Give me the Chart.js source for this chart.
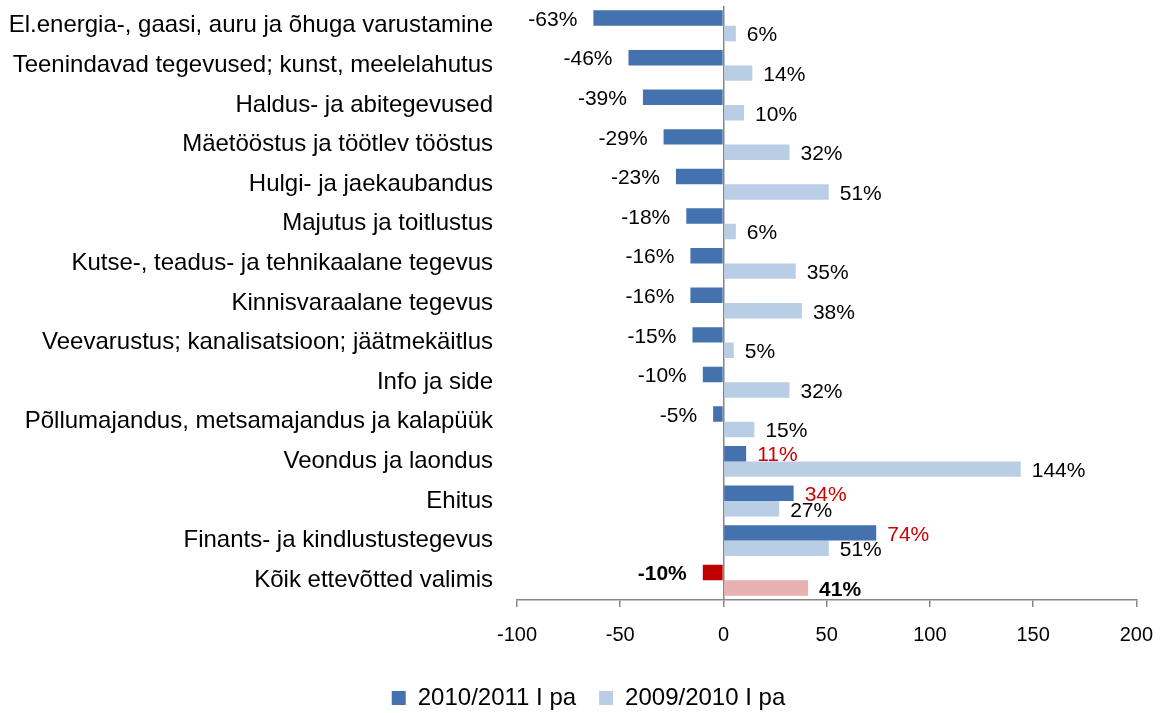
<!DOCTYPE html>
<html>
<head>
<meta charset="utf-8">
<script src="https://cdn.jsdelivr.net/npm/chart.js@4.4.0/dist/chart.umd.min.js"></script>
<style>
html,body{margin:0;padding:0;background:#fff;}
#wrap{width:1169px;height:713px;position:relative;}
</style>
</head>
<body>
<div id="wrap"><canvas id="c" width="1169" height="713"></canvas></div>
<script>
const categories = [
  "El.energia-, gaasi, auru ja õhuga varustamine",
  "Teenindavad tegevused; kunst, meelelahutus",
  "Haldus- ja abitegevused",
  "Mäetööstus ja töötlev tööstus",
  "Hulgi- ja jaekaubandus",
  "Majutus ja toitlustus",
  "Kutse-, teadus- ja tehnikaalane tegevus",
  "Kinnisvaraalane tegevus",
  "Veevarustus; kanalisatsioon; jäätmekäitlus",
  "Info ja side",
  "Põllumajandus, metsamajandus ja kalapüük",
  "Veondus ja laondus",
  "Ehitus",
  "Finants- ja kindlustustegevus",
  "Kõik ettevõtted valimis"
];
const series2011 = [-63, -46, -39, -29, -23, -18, -16, -16, -15, -10, -5, 11, 34, 74, -10];
const series2010 = [6, 14, 10, 32, 51, 6, 35, 38, 5, 32, 15, 144, 27, 51, 41];
const seriesNames = ["2010/2011 I pa", "2009/2010 I pa"];
const xTicks = [-100, -50, 0, 50, 100, 150, 200];

const FONT = "'Liberation Sans', Arial, sans-serif";
const DARK = '#4472AE', LIGHT = '#B9CDE5', RED = '#C00000', PINK = '#E6B1AF';
const lastIdx = categories.length - 1;

const labelPlugin = {
  id: 'barLabels',
  afterDatasetsDraw(chart) {
    const ctx = chart.ctx;
    ctx.save();
    ctx.textBaseline = 'middle';
    chart.data.datasets.forEach((ds, di) => {
      const meta = chart.getDatasetMeta(di);
      meta.data.forEach((bar, i) => {
        const v = ds.data[i];
        const isTotal = i === lastIdx;
        ctx.font = (isTotal ? 'bold ' : '') + '21px ' + FONT;
        ctx.fillStyle = (di === 0 && v > 0) ? '#CC0000' : '#000';
        const txt = v + '%';
        const y = bar.y + 2;
        if (v < 0) {
          ctx.textAlign = 'right';
          ctx.fillText(txt, bar.x - 16, y);
        } else {
          ctx.textAlign = 'left';
          ctx.fillText(txt, bar.x + 11, y);
        }
      });
    });
    ctx.restore();
  }
};

const legendShift = {
  id: 'legendShift',
  afterLayout(chart) {
    if (chart.legend) { chart.legend.left += 18; chart.legend.right += 18; }
  }
};

new Chart(document.getElementById('c'), {
  type: 'bar',
  data: {
    labels: categories,
    datasets: [
      {
        label: seriesNames[0],
        data: series2011,
        backgroundColor: series2011.map((v, i) => i === lastIdx ? RED : DARK),
        categoryPercentage: 0.78,
        barPercentage: 1.0
      },
      {
        label: seriesNames[1],
        data: series2010,
        backgroundColor: series2010.map((v, i) => i === lastIdx ? PINK : LIGHT),
        categoryPercentage: 0.78,
        barPercentage: 1.0
      }
    ]
  },
  options: {
    indexAxis: 'y',
    responsive: false,
    animation: false,
    layout: { padding: { top: 6, right: 28, left: 0, bottom: 0 } },
    scales: {
      x: {
        min: -100, max: 200,
        afterBuildTicks(scale) { scale.ticks = xTicks.map(v => ({ value: v })); },
        afterFit(scale) { scale.height = 63; },
        grid: {
          color: (c) => (c.tick && c.tick.value === 0) ? '#868686' : 'rgba(0,0,0,0)',
          tickColor: '#868686',
          tickLength: 7,
          lineWidth: 1.5
        },
        border: { display: true, color: '#868686', width: 1.5 },
        ticks: { color: '#000', font: { family: FONT, size: 20 }, padding: 16 }
      },
      y: {
        afterFit(scale) { scale.width = 517; scale.paddingTop = 0; scale.paddingBottom = 0; },
        grid: { display: false, drawTicks: false },
        border: { display: false },
        ticks: { color: '#000', font: { family: FONT, size: 24 }, padding: 24, autoSkip: false }
      }
    },
    plugins: {
      legend: {
        position: 'bottom',
        maxHeight: 50,
        labels: {
          color: '#000',
          font: { family: FONT, size: 24 },
          boxWidth: 14, boxHeight: 14,
          padding: 23
        }
      },
      tooltip: { enabled: false }
    }
  },
  plugins: [labelPlugin, legendShift]
});
</script>
</body>
</html>
